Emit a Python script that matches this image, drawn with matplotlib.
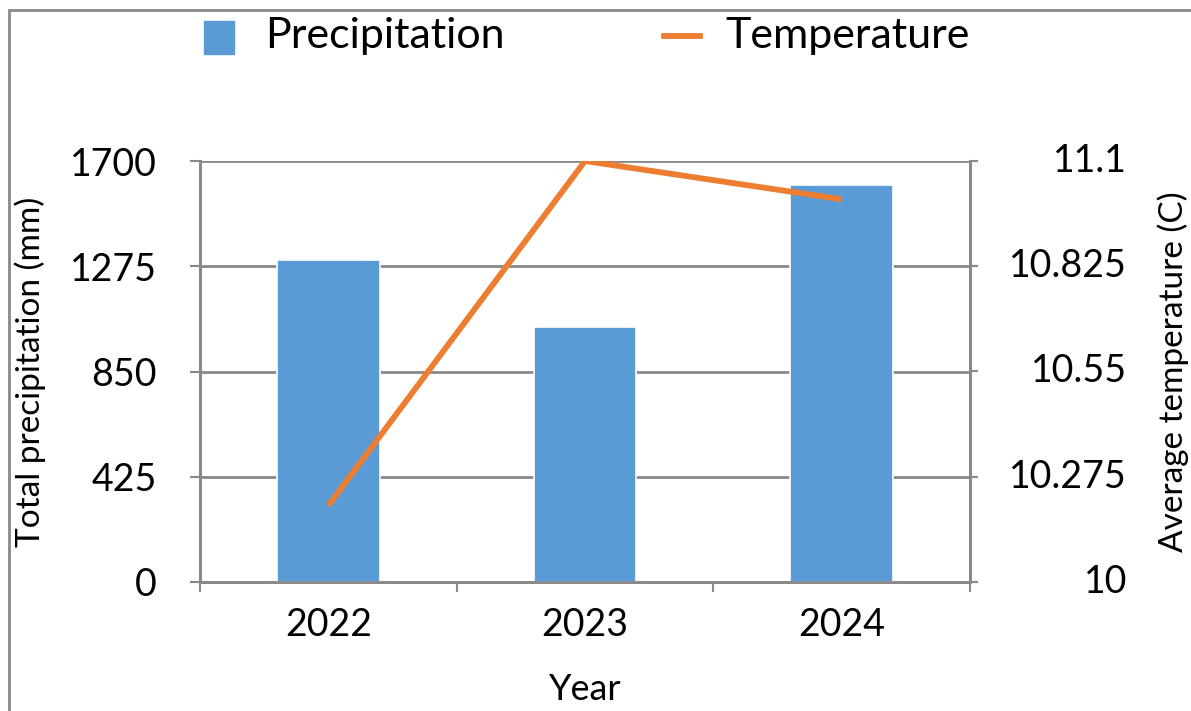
import matplotlib.pyplot as plt
import numpy as np
from matplotlib.patches import Rectangle
from matplotlib.lines import Line2D

plt.rcParams['font.family'] = ['Lato', 'DejaVu Sans']

years = ['2022', '2023', '2024']
precip = [1300, 1030, 1605]
temp = [10.20, 11.10, 11.00]
left_ticks = [0, 425, 850, 1275, 1700]
right_ticks = [10, 10.275, 10.55, 10.825, 11.1]
right_labels = ['10', '10.275', '10.55', '10.825', '11.1']

W, H = 1191, 711
fig = plt.figure(figsize=(W/100, H/100), dpi=100)
ax = fig.add_axes([200/W, 1-582/H, 770/W, 421/H])
ax2 = ax.twinx()

x = np.arange(len(years))
grey = '#898989'
fs = 27

ax.set_axisbelow(True)
ax.yaxis.grid(True, color=grey, lw=2)
ax.bar(x, precip, width=0.4, color='#5B9BD5', edgecolor='white', lw=1.2, zorder=3)
ax.set_xlim(-0.5, 2.5)
ax.set_ylim(0, 1700)
ax.set_yticks(left_ticks)
ax.set_xticks(x)
ax.set_xticklabels(years)
ax.set_xticks([-0.5, 0.5, 1.5, 2.5], minor=True)
ax.tick_params(axis='x', which='major', length=0, labelsize=fs, pad=18)
ax.tick_params(axis='x', which='minor', length=7, width=1.5, color=grey)
ax.tick_params(axis='y', length=7, width=1.5, color=grey, labelsize=fs, pad=24)

ax2.plot(x, temp, color='#ED7D31', lw=4.2, solid_capstyle='butt', zorder=4)
ax2.set_ylim(10, 11.1)
ax2.set_yticks(right_ticks)
ax2.set_yticklabels([])
ax2.tick_params(axis='y', length=6, width=1.5, color=grey)
for v, s in zip(right_ticks, right_labels):
    ax2.text(1.204, v, s, transform=ax2.get_yaxis_transform(), ha='right',
             va='center', fontsize=fs)

for a in (ax, ax2):
    a.spines['top'].set_visible(False)
    for s in ('left', 'right', 'bottom'):
        a.spines[s].set_color(grey)
        a.spines[s].set_linewidth(2)

ax.set_xlabel('Year', fontsize=26)
ax.xaxis.set_label_coords(0.5, -0.215)
ax.set_ylabel('Total precipitation (mm)', fontsize=24, va='center')
ax.yaxis.set_label_coords(-0.22, 0.5)
ax2.set_ylabel('Average temperature (C)', fontsize=24, va='center', rotation=90)
ax2.yaxis.set_label_coords(1.264, 0.5)

# legend
fig.patches.append(Rectangle((204/W, 1-54/H), 30/W, 33/H, transform=fig.transFigure,
                             facecolor='#5B9BD5', edgecolor='#5B9BD5', lw=1))
fig.lines.append(Line2D([664/W, 700/W], [1-36/H, 1-36/H], transform=fig.transFigure,
                        color='#ED7D31', lw=4.2))
fig.text(265/W, 1-36/H, 'Precipitation', fontsize=31, va='center', ha='left')
fig.text(725/W, 1-36/H, 'Temperature', fontsize=31, va='center', ha='left')

# outer frame
fig.patches.append(Rectangle((9/W, -0.1), 1.2, 1.1 - 10/H, transform=fig.transFigure,
                             fill=False, edgecolor=grey, lw=2))

fig.savefig('out.png', dpi=100)
